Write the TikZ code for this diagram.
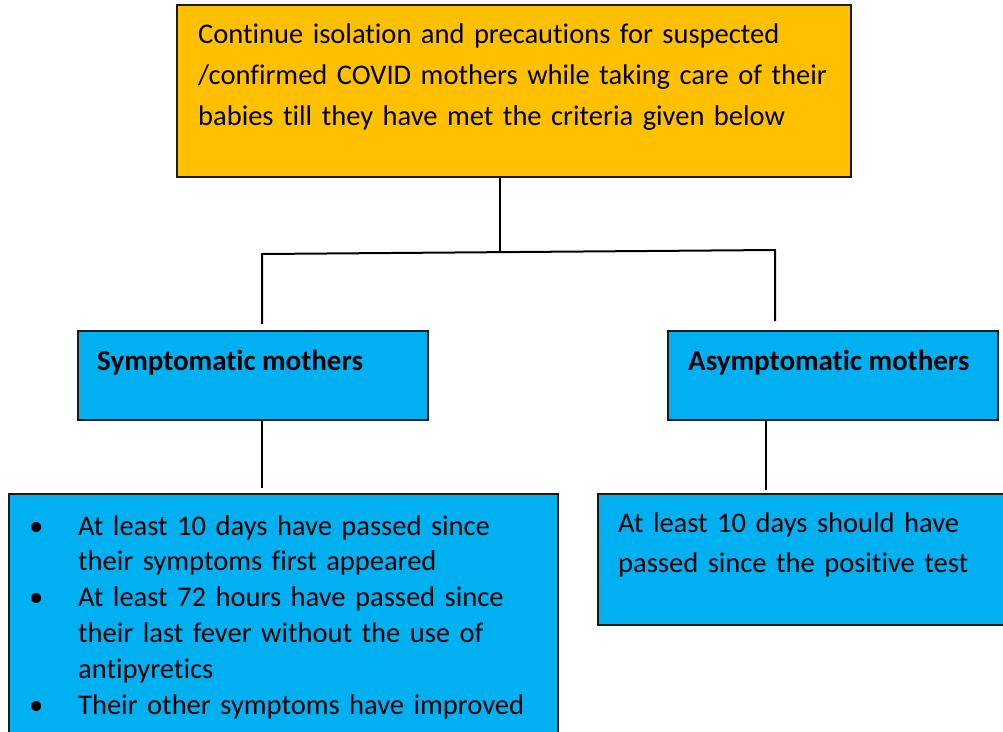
\documentclass[tikz,border=0pt]{standalone}
\usepackage{fontspec}
\setmainfont{Carlito}[Ligatures=NoCommon]
\definecolor{boxorange}{HTML}{FFC000}
\definecolor{boxblue}{HTML}{00B0F0}
\definecolor{edgecol}{HTML}{1A1A1A}
\newcommand\centerlabel[1]{\hfil#1\hfil}
\begin{document}
\begin{tikzpicture}[x=1pt,y=-1pt,
  box/.style={draw=edgecol, line width=2pt, inner sep=0pt, anchor=north west},
  txt/.style={inner sep=0pt, anchor=north west, align=left, font=\fontsize{28.5}{41}\selectfont},
  conn/.style={draw=black, line width=2pt}]
\useasboundingbox (0,0) rectangle (1003,731);
\clip (0,0) rectangle (1003,731);
% boxes
\node[box, fill=boxorange, minimum width=674pt, minimum height=172pt] (top) at (176,4) {};
\node[box, fill=boxblue, minimum width=350pt, minimum height=89pt] (sym) at (77,330) {};
\node[box, fill=boxblue, minimum width=330pt, minimum height=89pt] (asym) at (667,330) {};
\node[box, fill=boxblue, minimum width=549pt, minimum height=260pt] (symcritbox) at (8,493) {};
\node[box, fill=boxblue, minimum width=420pt, minimum height=131pt] (asymcritbox) at (597,493) {};
% texts
\node[txt, text width=645pt] (toptxt) at (198,24) {Continue isolation and precautions for suspected\\/confirmed COVID mothers while taking care of their\\babies till they have met the criteria given below};
\node[txt, font=\fontsize{29}{41}\selectfont\bfseries] (symtxt) at (97,349.5) {Symptomatic mothers};
\node[txt, font=\fontsize{29}{41}\selectfont\bfseries] (asymtxt) at (688,349.5) {Asymptomatic mothers};
\node[txt, text width=390pt, font=\fontsize{28.5}{40}\selectfont] (asymcrit) at (618,512.5) {At least 10 days should have\\passed since the positive test};
\node[txt, text width=480pt, font=\fontsize{28.5}{35.8}\selectfont] (symcrit) at (78,499) {%
\begin{list}{\textbullet}{\setlength\leftmargin{0pt}\setlength\labelwidth{20pt}\setlength\labelsep{32pt}%
\setlength\topsep{0pt}\setlength\partopsep{0pt}\setlength\itemsep{0pt}\setlength\parsep{0pt}%
\let\makelabel\centerlabel}
\item At least 10 days have passed since\\their symptoms first appeared
\item At least 72 hours have passed since\\their last fever without the use of\\antipyretics
\item Their other symptoms have improved
\end{list}};
% connectors
\coordinate (jC) at (500,252);
\coordinate (jL) at (262,254);
\coordinate (jR) at (775,250);
\coordinate (eL) at (262,324);
\coordinate (eR) at (775,321);
\coordinate (dL) at (262,488);
\coordinate (dR) at (766,490);
\draw[conn] (top.south -| jC) -- (jC);
\draw[conn] (eL) -- (jL) -- (jR) -- (eR);
\draw[conn, line width=1.6pt] (sym.south -| dL) -- (dL);
\draw[conn, line width=1.6pt] (asym.south -| dR) -- (dR);
\end{tikzpicture}
\end{document}
